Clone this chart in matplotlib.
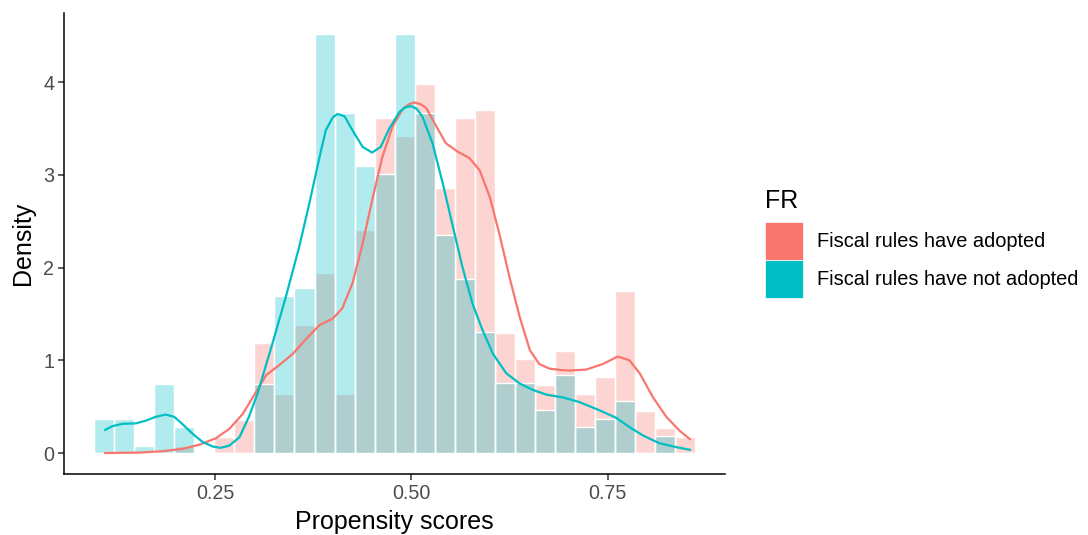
import numpy as np
import matplotlib.pyplot as plt
from matplotlib.patches import Patch

# ============================================================
# Data
# ============================================================

bin_start = 0.0957
bin_end = 0.862
n_bins = 30

adopted_hist = [0.00, 0.00, 0.00, 0.00, 0.08, 0.00, 0.17, 0.36, 1.19, 0.64,
                1.38, 1.94, 0.64, 2.40, 3.61, 3.42, 3.98, 2.86, 3.61, 3.70,
                1.29, 1.01, 0.73, 1.10, 0.64, 0.82, 1.75, 0.45, 0.27, 0.17]

not_adopted_hist = [0.37, 0.37, 0.08, 0.74, 0.28, 0.00, 0.00, 0.00, 0.74, 1.69,
                    1.78, 4.52, 3.67, 3.10, 3.01, 4.52, 3.67, 2.35, 1.88, 1.31,
                    0.75, 0.75, 0.46, 0.84, 0.28, 0.37, 0.56, 0.00, 0.18, 0.00]

# density curves, traced point by point
adopted_dens_x = [0.110, 0.153, 0.183, 0.208, 0.230, 0.251, 0.268, 0.285,
                  0.298, 0.315, 0.332, 0.349, 0.366, 0.383, 0.400, 0.412,
                  0.425, 0.438, 0.451, 0.463, 0.476, 0.489, 0.497, 0.504,
                  0.512, 0.519, 0.532, 0.544, 0.559, 0.574, 0.587, 0.600,
                  0.612, 0.625, 0.638, 0.651, 0.663, 0.676, 0.690, 0.702,
                  0.723, 0.744, 0.763, 0.778, 0.791, 0.808, 0.825, 0.842,
                  0.855]
adopted_dens_y = [0.00, 0.005, 0.02, 0.045, 0.09, 0.16, 0.26, 0.42,
                  0.60, 0.84, 0.95, 1.07, 1.23, 1.38, 1.45, 1.56,
                  1.83, 2.26, 2.76, 3.19, 3.52, 3.71, 3.76, 3.78,
                  3.76, 3.72, 3.52, 3.34, 3.25, 3.18, 3.05, 2.76,
                  2.37, 1.90, 1.47, 1.11, 0.96, 0.91, 0.895, 0.89,
                  0.90, 0.96, 1.04, 1.00, 0.86, 0.60, 0.39, 0.24,
                  0.15]

not_adopted_dens_x = [0.110, 0.119, 0.132, 0.149, 0.162, 0.174, 0.187, 0.198,
                      0.208, 0.221, 0.234, 0.247, 0.257, 0.268, 0.281, 0.293,
                      0.304, 0.323, 0.340, 0.357, 0.370, 0.383, 0.391, 0.400,
                      0.406, 0.415, 0.425, 0.438, 0.450, 0.461, 0.472, 0.485,
                      0.493, 0.500, 0.507, 0.514, 0.527, 0.540, 0.553, 0.565,
                      0.578, 0.591, 0.604, 0.621, 0.638, 0.655, 0.672, 0.693,
                      0.714, 0.740, 0.761, 0.778, 0.795, 0.816, 0.838, 0.855]
not_adopted_dens_y = [0.25, 0.29, 0.315, 0.32, 0.35, 0.39, 0.415, 0.39,
                      0.315, 0.21, 0.12, 0.07, 0.056, 0.08, 0.17, 0.39,
                      0.64, 1.18, 1.68, 2.22, 2.69, 3.19, 3.48, 3.62,
                      3.656, 3.63, 3.48, 3.30, 3.24, 3.30, 3.50, 3.68,
                      3.73, 3.74, 3.71, 3.63, 3.34, 2.91, 2.44, 2.01,
                      1.61, 1.32, 1.07, 0.86, 0.75, 0.68, 0.63, 0.60,
                      0.55, 0.46, 0.38, 0.28, 0.19, 0.106, 0.063, 0.035]

labels = ["Fiscal rules have adopted", "Fiscal rules have not adopted"]
colors = ["#F8766D", "#00BFC4"]

# ============================================================
# Plot
# ============================================================

plt.rcParams['font.family'] = ['Liberation Sans', 'DejaVu Sans']

fig = plt.figure(figsize=(10.88, 5.35), dpi=100)
ax = fig.add_axes([0.0588, 0.114, 0.608, 0.862])

edges = np.linspace(bin_start, bin_end, n_bins + 1)
widths = np.diff(edges)

for heights, col in zip([adopted_hist, not_adopted_hist], colors):
    ax.bar(edges[:-1], heights, width=widths, align='edge',
           facecolor=col, alpha=0.3, edgecolor='none')
    ax.bar(edges[:-1], heights, width=widths, align='edge',
           facecolor='none', edgecolor='white', linewidth=1.0)

ax.plot(adopted_dens_x, adopted_dens_y, color=colors[0], linewidth=1.6,
        solid_joinstyle='round')
ax.plot(not_adopted_dens_x, not_adopted_dens_y, color=colors[1], linewidth=1.6,
        solid_joinstyle='round')

xr = bin_end - bin_start
ax.set_xlim(bin_start - 0.05 * xr, bin_end + 0.05 * xr)
ax.set_ylim(-0.05 * 4.52, 4.52 * 1.05)

ax.set_xticks([0.25, 0.50, 0.75])
ax.set_xticklabels(["0.25", "0.50", "0.75"])
ax.set_yticks([0, 1, 2, 3, 4])

for side in ['top', 'right']:
    ax.spines[side].set_visible(False)
for side in ['left', 'bottom']:
    ax.spines[side].set_linewidth(1.1)
    ax.spines[side].set_color('black')

ax.tick_params(axis='both', colors='#333333', labelcolor='#4D4D4D',
               labelsize=14.2, length=4, width=1.1, pad=3)

ax.set_xlabel("Propensity scores", fontsize=18, labelpad=5)
ax.set_ylabel("Density", fontsize=18, labelpad=6)

# ============================================================
# Legend
# ============================================================

handles = [Patch(facecolor=c, edgecolor='white', linewidth=0.5) for c in colors]
leg = fig.legend(handles, labels, title="FR", loc='center left',
                 bbox_to_anchor=(0.694, 0.545), frameon=False,
                 fontsize=14.4, title_fontsize=18,
                 handlelength=1.9, handleheight=2.55,
                 labelspacing=0.0, handletextpad=0.7, borderpad=0.0)
leg._legend_box.align = 'left'
leg._legend_box.sep = 6

plt.savefig("out.png", dpi=100)
